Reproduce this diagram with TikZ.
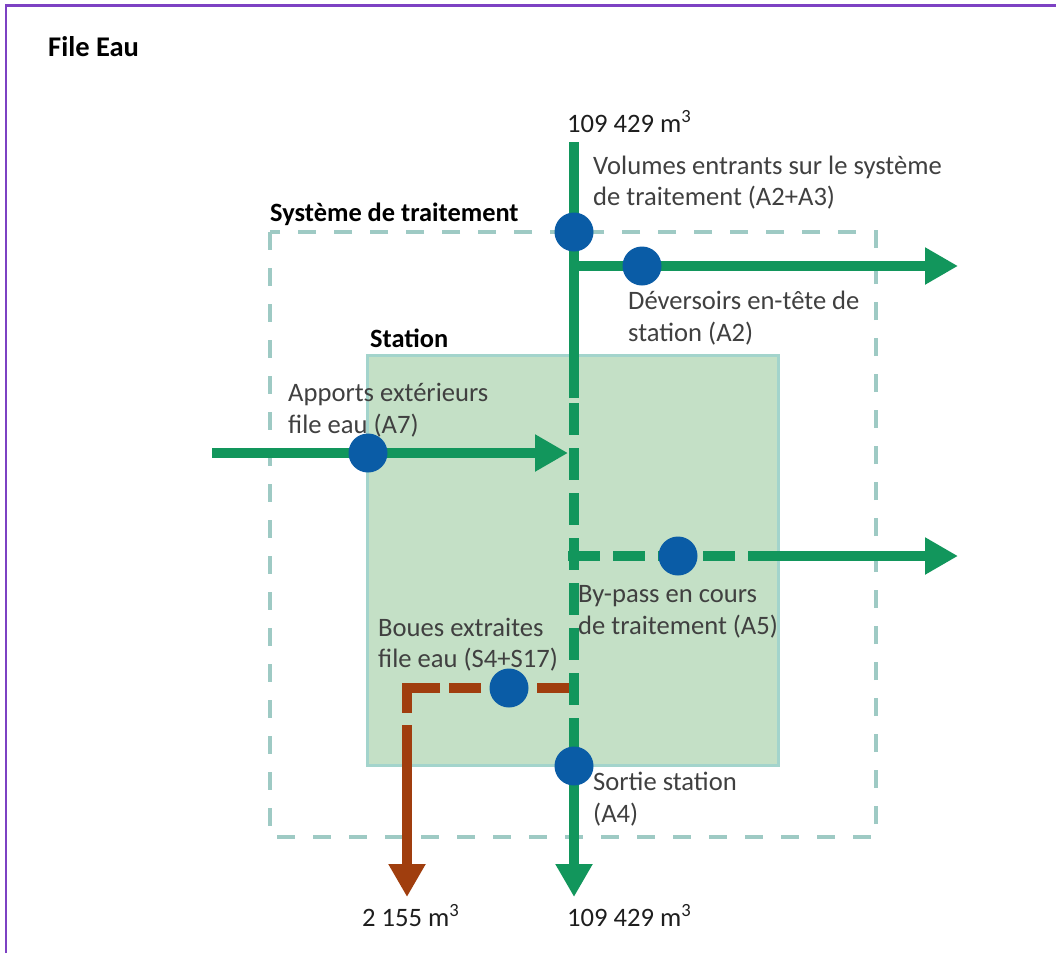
\documentclass[tikz,border=0pt]{standalone}
\usepackage{fontspec}
\setmainfont{Carlito}
\usetikzlibrary{arrows.meta}
\definecolor{flow}{RGB}{18,150,92}
\definecolor{boue}{RGB}{160,62,14}
\definecolor{dotblue}{RGB}{10,92,166}
\definecolor{sysline}{RGB}{158,202,196}
\definecolor{stfill}{RGB}{196,224,198}
\definecolor{stline}{RGB}{163,212,204}
\definecolor{framecol}{RGB}{125,65,195}
\definecolor{lbl}{RGB}{64,64,64}
\definecolor{num}{RGB}{30,30,30}
\begin{document}
\begin{tikzpicture}[x=1pt,y=-1pt,
  flowline/.style={line width=10pt, draw=flow},
  boueline/.style={line width=10pt, draw=boue},
  tipgreen/.style={-{Triangle[length=33pt,width=35pt,fill=flow]}},
  tipbrown/.style={-{Triangle[length=33pt,width=35pt,fill=boue]}},
  dashpat/.style={dash pattern=on 32pt off 13pt},
  mesure/.style={circle, fill=dotblue, minimum size=39pt, inner sep=0pt},
  lab/.style={anchor=base west, inner sep=0pt, text=lbl, font=\fontsize{26.6}{32}\selectfont},
  vol/.style={lab, text=num},
  titre/.style={anchor=base west, inner sep=0pt, text=black, font=\fontsize{26.4}{32}\selectfont\bfseries},
]
\useasboundingbox (0,0) rectangle (1056,953);
\fill[white] (0,0) rectangle (1056,953);
% frame
\draw[framecol, line width=2.5pt] (6,953) -- (6,5.5) -- (1056,5.5);

% title
\node[titre, font=\fontsize{28.5}{34}\selectfont\bfseries] (title) at (48,56) {File Eau};

% boxes
\draw[sysline, line width=4pt, dash pattern=on 18pt off 18pt] (270,232) rectangle (876,837);
\node[titre] (tsys) at (270,221) {Système de traitement};
\draw[stline, fill=stfill, line width=3pt] (367,355) rectangle (778,765);
\node[titre] (tsta) at (370,347) {Station};

% coordinates
\coordinate (top) at (574,142);
\coordinate (d1) at (574,398);
\coordinate (d2) at (574,403);
\coordinate (d3) at (574,705);
\coordinate (d4) at (574,718);
\coordinate (bot) at (574,897);
\coordinate (j2) at (574,266);
\coordinate (e2) at (958,266);
\coordinate (s7) at (212,453);
\coordinate (e7) at (568,453);
\coordinate (j5) at (568,556);
\coordinate (m5) at (735,556);
\coordinate (n5) at (748,556);
\coordinate (e5) at (958,556);
\coordinate (jb) at (569,688);
\coordinate (hb) at (449,688);
\coordinate (cb1) at (440,688);
\coordinate (cb) at (407,688);
\coordinate (cb2) at (407,713);
\coordinate (vb) at (407,725);
\coordinate (eb) at (407,897);

% brown sludge line
\draw[boueline, dash pattern=on 32pt off 12pt] (jb) -- (hb);
\draw[boueline] (cb1) -- (cb) -- (cb2);
\draw[boueline, tipbrown] (vb) -- (eb);

% main vertical line
\draw[flowline] (top) -- (d1);
\draw[flowline, dashpat] (d2) -- (d3);
\draw[flowline, tipgreen] (d4) -- (bot);

% branches
\draw[flowline, tipgreen] (j2) -- (e2);
\draw[flowline, tipgreen] (s7) -- (e7);
\draw[flowline, dashpat] (j5) -- (m5);
\draw[flowline, tipgreen] (n5) -- (e5);

% measurement points
\node[mesure] (dA23) at (574,232) {};
\node[mesure] (dA2) at (642,266) {};
\node[mesure] (dA7) at (368,453) {};
\node[mesure] (dA5) at (678,556) {};
\node[mesure] (dS4) at (509,688) {};
\node[mesure] (dA4) at (574,766) {};

% labels
\node[vol] (vin) at (567,132) {109 429 m\textsuperscript{3}};
\node[lab] (l1a) at (593,174) {Volumes entrants sur le système};
\node[lab] (l1b) at (593,205) {de traitement (A2+A3)};
\node[lab] (l2a) at (628,309) {Déversoirs en-tête de};
\node[lab] (l2b) at (628,341) {station (A2)};
\node[lab] (l7a) at (288,401) {Apports extérieurs};
\node[lab] (l7b) at (288,433) {file eau (A7)};
\node[lab] (l5a) at (578,602) {By-pass en cours};
\node[lab] (l5b) at (578,634) {de traitement (A5)};
\node[lab] (lsa) at (378,636) {Boues extraites};
\node[lab] (lsb) at (378,667) {file eau (S4+S17)};
\node[lab] (l4a) at (593,790) {Sortie station};
\node[lab] (l4b) at (593,822) {(A4)};
\node[vol] (vb1) at (362,926) {2 155 m\textsuperscript{3}};
\node[vol] (vb2) at (567,926) {109 429 m\textsuperscript{3}};
\end{tikzpicture}
\end{document}
